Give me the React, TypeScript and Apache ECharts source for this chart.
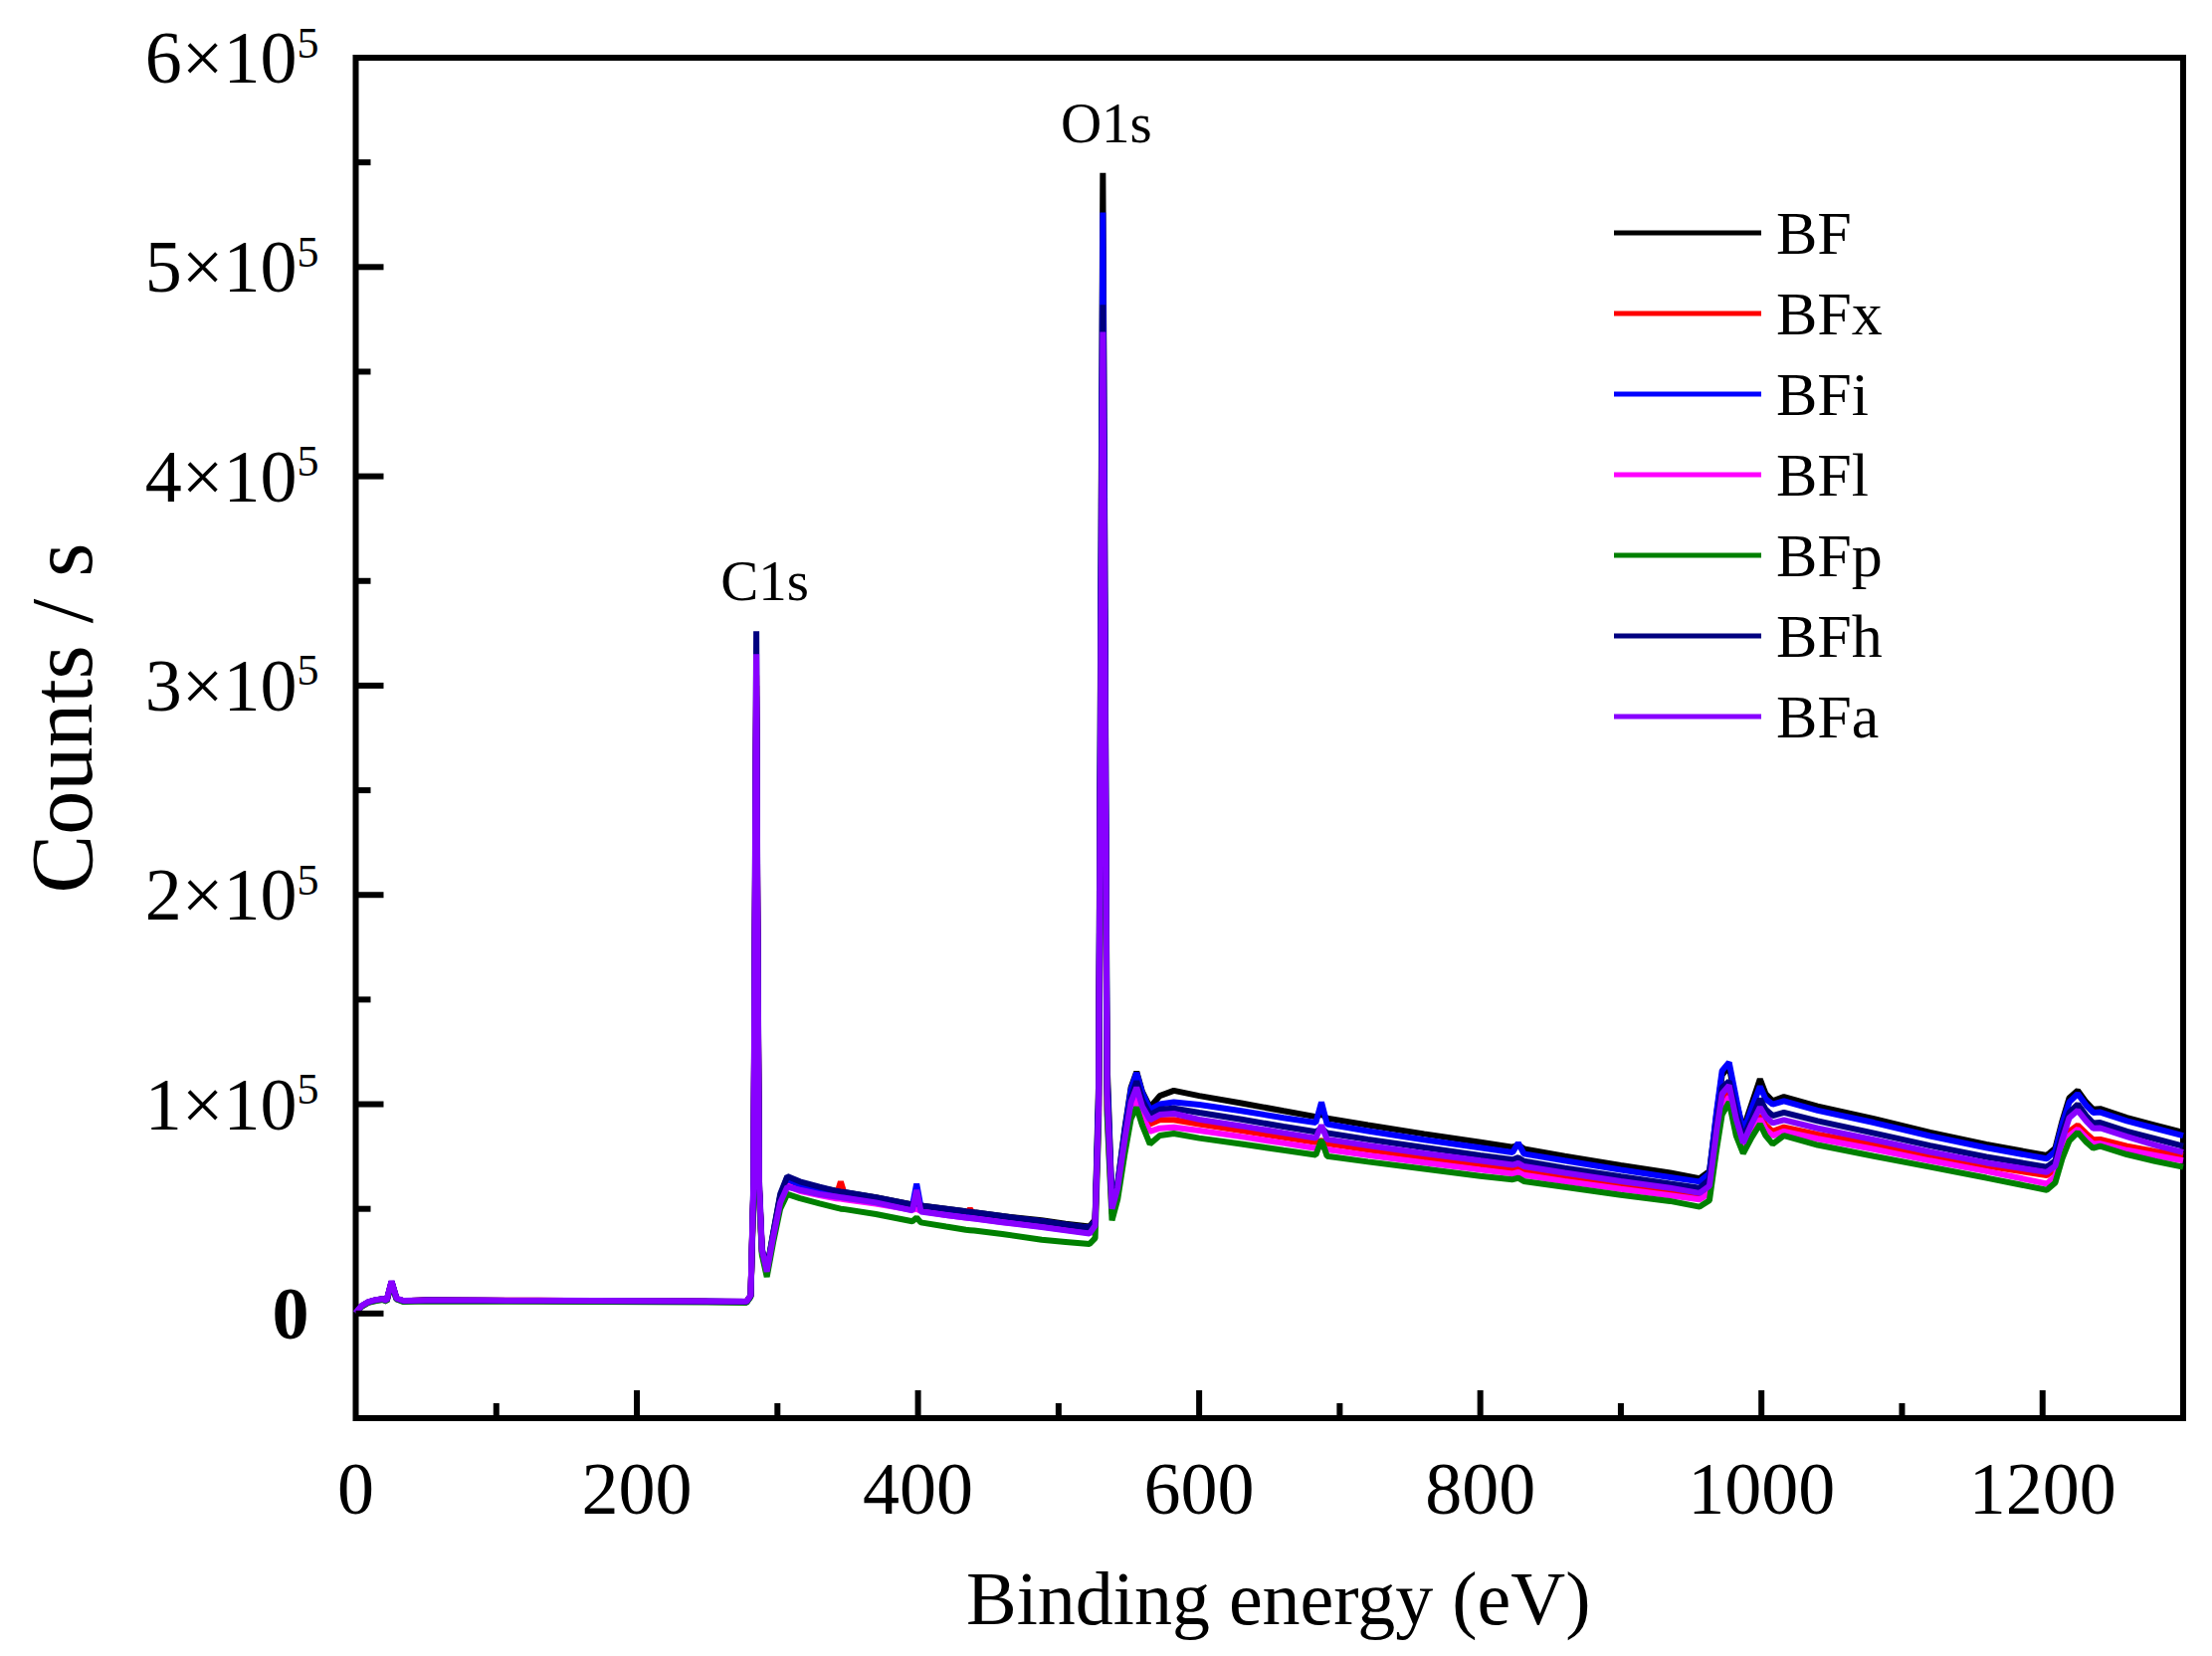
import { useEffect, useRef } from 'react';
import * as echarts from 'echarts';

// binding energy grid (eV), shared by all spectra
const energy = [
  0, 4, 9, 14, 19, 22, 25.5, 29, 34, 50, 90, 130, 170, 210, 250, 278, 281,
  283, 284.3, 285, 285.7, 287, 289, 292.5, 297, 302,
  307, 316, 330, 342, 345, 348, 370, 396, 399, 402, 420, 434, 437, 440, 460, 488, 505, 522,
  526, 528.5, 530.3, 531.5, 532.7, 534.5, 538, 542, 547, 551.5, 555.5, 559.5, 565, 572,
  582, 600, 630, 660, 683, 687, 691, 720, 760, 800, 823, 827, 831, 860, 900, 935, 956,
  963, 968, 972, 977, 982, 987, 993, 999, 1003, 1008, 1016, 1040,
  1080, 1120, 1160, 1203,
  1209, 1214, 1219, 1225, 1231, 1236, 1241, 1260, 1280, 1300,
];

// intensities in units of 100 counts/s
const bf = [
  2, 35, 55, 64, 70, 62, 150, 72, 60, 63, 62, 61, 60, 59, 58, 56, 85,
  600, 2200, 3000, 2000, 600, 300, 205, 380, 560,
  650, 625, 600, 585, 582, 578, 555, 520, 525, 515, 500, 488, 486, 483, 465, 445, 428, 415,
  450, 1100, 3800, 5450, 3900, 1200, 520, 620, 880, 1080, 1155, 1060, 985, 1040,
  1065, 1040, 1005, 968, 940, 952, 933, 900, 858, 818, 795, 805, 787, 752, 708, 672, 645,
  680, 950, 1140, 1180, 1010, 880, 1000, 1120, 1050, 1015, 1035, 990,
  930, 865, 808, 755,
  790, 920, 1030, 1065, 1010, 975, 978, 935, 900, 865,
];
const bfx = [
  2, 34, 54, 63, 69, 61, 148, 71, 60, 63, 62, 62, 60, 59, 57, 56, 85,
  600, 2200, 3050, 2050, 600, 300, 200, 370, 545,
  625, 600, 580, 565, 630, 565, 540, 505, 510, 500, 485, 472, 500, 468, 450, 428, 412, 398,
  430, 950, 3200, 4500, 3200, 1000, 490, 590, 820, 1000, 1060, 980, 905, 925,
  925, 905, 874, 842, 818, 826, 812, 783, 746, 712, 692, 700, 685, 654, 616, 585, 561,
  590, 820, 1000, 1055, 900, 790, 880, 945, 900, 870, 890, 855,
  808, 755, 705, 660,
  690, 800, 870, 900, 860, 830, 832, 800, 775, 755,
];
const bfi = [
  2, 34, 54, 63, 68, 60, 152, 70, 59, 62, 61, 60, 59, 58, 57, 55, 84,
  590, 2150, 2950, 1950, 590, 295, 205, 375, 555,
  640, 615, 590, 575, 572, 570, 548, 515, 620, 510, 495, 483, 481, 478, 460, 440, 423, 410,
  440, 1050, 3650, 5260, 3750, 1150, 515, 615, 870, 1070, 1150, 1055, 975, 1000,
  1010, 998, 968, 935, 912, 1010, 905, 872, 830, 792, 770, 815, 763, 730, 686, 651, 630,
  670, 960, 1160, 1200, 1030, 865, 980, 1085, 1025, 1000, 1015, 970,
  912, 848, 792, 740,
  775, 905, 1010, 1050, 995, 960, 962, 920, 885, 850,
];
const bfl = [
  1, 33, 53, 62, 67, 59, 146, 69, 58, 61, 60, 59, 58, 57, 56, 54, 83,
  580, 2100, 2900, 1900, 580, 290, 190, 360, 535,
  610, 585, 565, 550, 548, 545, 525, 495, 500, 490, 470, 458, 456, 455, 437, 415, 400, 385,
  420, 920, 3100, 4400, 3150, 980, 475, 575, 800, 970, 1030, 940, 870, 885,
  890, 874, 845, 814, 790, 800, 784, 756, 721, 687, 668, 675, 661, 632, 595, 564, 545,
  575, 800, 980, 1035, 880, 775, 860, 930, 880, 850, 870, 835,
  785, 730, 680, 620,
  655, 770, 850, 880, 840, 810, 812, 780, 755, 730,
];
const bfp = [
  1, 32, 52, 60, 66, 58, 143, 68, 56, 59, 58, 57, 56, 55, 54, 52, 80,
  560, 2050, 2850, 1850, 560, 280, 175, 340, 500,
  570, 550, 525, 505, 500, 498, 475, 440, 458, 435, 415, 400, 398, 396, 380, 352, 342, 332,
  360, 900, 3000, 4300, 3050, 950, 445, 545, 760, 930, 985, 900, 810, 850,
  860, 838, 810, 780, 758, 830, 752, 725, 691, 657, 640, 648, 632, 604, 566, 537, 510,
  540, 780, 950, 1010, 850, 765, 840, 905, 850, 810, 850, 805,
  752, 700, 648, 590,
  625, 740, 825, 865, 820, 790, 800, 760, 728, 700,
];
const bfh = [
  2, 35, 55, 64, 70, 62, 153, 72, 60, 63, 62, 61, 60, 59, 58, 56, 86,
  640, 2400, 3260, 2150, 640, 310, 210, 385, 570,
  655, 630, 605, 585, 582, 580, 555, 520, 528, 515, 500, 488, 486, 483, 465, 440, 425, 408,
  440, 1000, 3400, 4820, 3450, 1080, 510, 610, 850, 1030, 1110, 1020, 950, 975,
  980, 960, 928, 893, 868, 885, 862, 832, 793, 756, 735, 745, 728, 695, 654, 620, 600,
  640, 900, 1080, 1110, 960, 840, 930, 1025, 975, 945, 960, 920,
  862, 802, 748, 700,
  730, 860, 960, 1000, 945, 910, 912, 870, 835, 800,
];
const bfa = [
  3, 36, 56, 65, 70, 63, 155, 73, 61, 64, 63, 62, 61, 60, 59, 57, 88,
  620, 2300, 3150, 2100, 620, 305, 200, 365, 530,
  605, 590, 570, 558, 555, 552, 530, 492, 590, 487, 470, 458, 456, 453, 436, 413, 397, 382,
  420, 980, 3300, 4690, 3350, 1050, 500, 600, 830, 1010, 1080, 990, 925, 950,
  955, 927, 896, 863, 838, 900, 832, 803, 765, 730, 710, 718, 703, 672, 632, 600, 575,
  610, 870, 1050, 1090, 930, 815, 905, 985, 940, 910, 925, 885,
  830, 772, 720, 675,
  705, 830, 935, 970, 920, 885, 886, 845, 805, 770,
];

const seriesNames = ['BF', 'BFx', 'BFi', 'BFl', 'BFp', 'BFh', 'BFa'];
const seriesValues = [bf, bfx, bfi, bfl, bfp, bfh, bfa];
const seriesColors = ['#000000', '#ff0000', '#0000ff', '#ff00ff', '#008000', '#000080', '#8800ff'];

const X_MIN = 0;
const X_MAX = 1300;
const Y_MIN = -50000;
const Y_MAX = 600000;

const xLabelValues = [0, 200, 400, 600, 800, 1000, 1200];
const xMajorTicks = [200, 400, 600, 800, 1000, 1200];
const xMinorTicks = [100, 300, 500, 700, 900, 1100];
const yLabelValues = [100000, 200000, 300000, 400000, 500000, 600000];
const yMajorTicks = [0, 100000, 200000, 300000, 400000, 500000];
const yMinorTicks = [50000, 150000, 250000, 350000, 450000, 550000];

const peakLabels = ['C1s', 'O1s'];
const peakLabelEnergy = [291, 534];
const peakLabelCounts = [350000, 569000];

const FONT = '"Times New Roman", "Liberation Serif", serif';

// tick marks drawn inward from the frame, positioned through the axes
const tickSeries = (name: string, data: number[][], vertical: boolean, length: number) => ({
  type: 'custom',
  name,
  silent: true,
  clip: false,
  z: 10,
  xAxisIndex: 0,
  yAxisIndex: 0,
  data,
  renderItem: (_params: any, api: any) => {
    const p = api.coord([api.value(0), api.value(1)]);
    return {
      type: 'line',
      shape: vertical
        ? { x1: p[0], y1: p[1], x2: p[0], y2: p[1] - length }
        : { x1: p[0], y1: p[1], x2: p[0] + length, y2: p[1] },
      style: { stroke: '#000', lineWidth: 6 },
    };
  },
});

const App = () => {
  const chartRef = useRef<HTMLDivElement>(null);

  useEffect(() => {
    if (!chartRef.current) return;
    const chart = echarts.init(chartRef.current, null, { renderer: 'svg' });

    const lineSeries = seriesNames.map((name, i) => ({
      type: 'line',
      name,
      data: energy.map((e, k) => [e, seriesValues[i][k] * 100]),
      showSymbol: false,
      symbol: 'none',
      lineStyle: { color: seriesColors[i], width: 6 },
      itemStyle: { color: seriesColors[i] },
      xAxisIndex: 0,
      yAxisIndex: 0,
    }));

    const option = {
      animation: false,
      backgroundColor: '#ffffff',
      grid: {
        left: 357.5,
        right: 29,
        top: 58,
        bottom: 239,
        show: true,
        borderColor: '#000',
        borderWidth: 6,
      },
      legend: {
        data: seriesNames,
        orient: 'vertical',
        left: 1622,
        top: 203,
        padding: 0,
        icon: 'rect',
        itemWidth: 148,
        itemHeight: 5,
        itemGap: 19,
        textStyle: {
          fontFamily: FONT,
          fontSize: 62,
          lineHeight: 62,
          color: '#000',
          padding: [0, 0, 0, 10],
        },
      },
      xAxis: {
        type: 'value',
        min: X_MIN,
        max: X_MAX,
        interval: 100,
        position: 'bottom',
        axisLine: { show: false, onZero: false },
        axisTick: { show: false },
        axisLabel: {
          margin: 34,
          fontFamily: FONT,
          fontSize: 74,
          color: '#000',
          formatter: (v: number) => (xLabelValues.includes(v) ? String(v) : ''),
        },
        splitLine: { show: false },
        name: 'Binding energy (eV)',
        nameLocation: 'middle',
        nameGap: 143,
        nameTextStyle: { fontFamily: FONT, fontSize: 76, color: '#000', padding: [0, 0, 0, 18] },
      },
      yAxis: {
        type: 'value',
        min: Y_MIN,
        max: Y_MAX,
        interval: 50000,
        position: 'left',
        axisLine: { show: false, onZero: false },
        axisTick: { show: false },
        axisLabel: {
          margin: 37,
          color: '#000',
          formatter: (v: number) => {
            if (v === 0) return '{z|0}';
            if (yLabelValues.includes(v)) return `{a|${v / 100000}×10}{b|5}`;
            return '';
          },
          rich: {
            a: { fontFamily: FONT, fontSize: 74, lineHeight: 74, color: '#000' },
            b: { fontFamily: FONT, fontSize: 44, lineHeight: 38, verticalAlign: 'top', color: '#000' },
            z: {
              fontFamily: FONT,
              fontSize: 74,
              lineHeight: 74,
              fontWeight: 'bold',
              color: '#000',
              padding: [0, 10, 0, 0],
            },
          },
        },
        splitLine: { show: false },
        name: 'Counts / s',
        nameLocation: 'middle',
        nameGap: 251,
        nameRotate: 90,
        nameTextStyle: { fontFamily: FONT, fontSize: 88, color: '#000', padding: [0, 0, 0, 40] },
      },
      series: [
        ...lineSeries,
        {
          type: 'scatter',
          name: 'peaks',
          silent: true,
          symbolSize: 1,
          itemStyle: { color: 'rgba(255,255,255,0)', opacity: 1 },
          data: peakLabels.map((t, i) => ({ name: t, value: [peakLabelEnergy[i], peakLabelCounts[i]] })),
          label: {
            show: true,
            position: 'inside',
            formatter: '{b}',
            fontFamily: FONT,
            fontSize: 57,
            color: '#000',
            opacity: 1,
            textBorderWidth: 0,
          },
          z: 5,
        },
        tickSeries('xMajor', xMajorTicks.map((e) => [e, Y_MIN]), true, 28),
        tickSeries('xMinor', xMinorTicks.map((e) => [e, Y_MIN]), true, 15),
        tickSeries('yMajor', yMajorTicks.map((v) => [X_MIN, v]), false, 28),
        tickSeries('yMinor', yMinorTicks.map((v) => [X_MIN, v]), false, 15),
      ],
    };

    chart.setOption(option);

    return () => {
      chart.dispose();
    };
  }, []);

  return (
    <div
      ref={chartRef}
      style={{ position: 'fixed', left: 0, top: 0, width: '2223px', height: '1664px', background: '#fff' }}
    />
  );
};

export default App;
